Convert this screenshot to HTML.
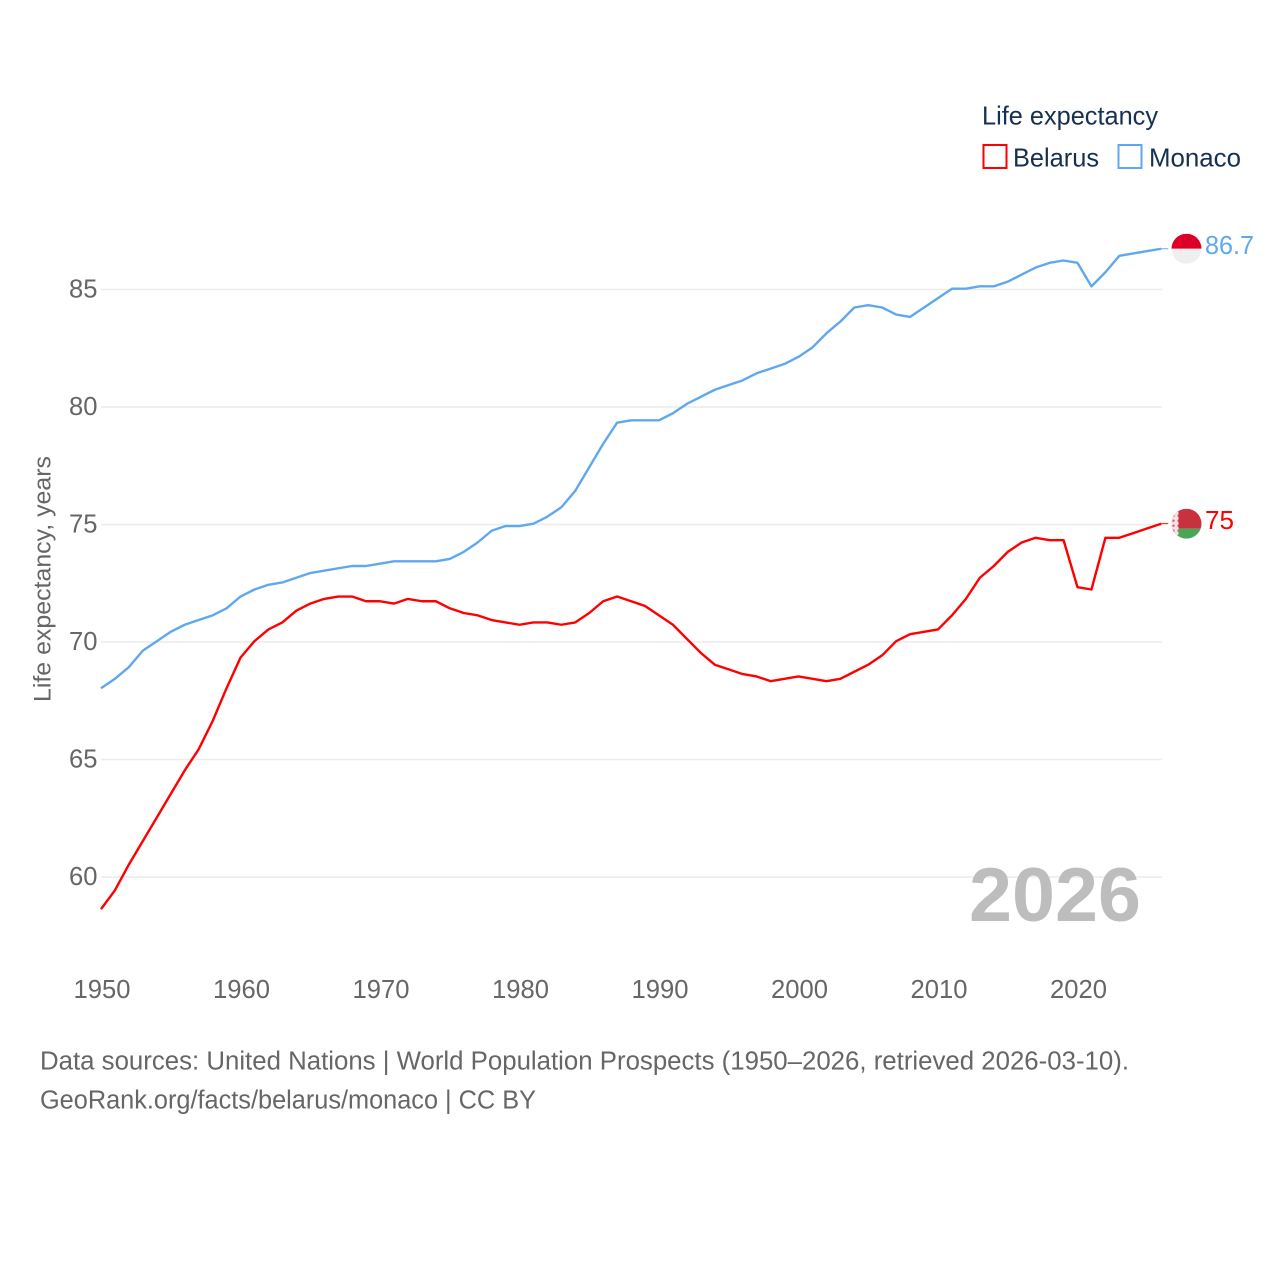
<!DOCTYPE html>
<html lang="en">
<head>
<meta charset="utf-8">
<title>Life expectancy: Belarus and Monaco</title>
<style>
html,body{margin:0;padding:0;background:#fff;width:1280px;height:1280px;overflow:hidden}
svg{display:block}
text{font-family:"Liberation Sans",sans-serif}
</style>
</head>
<body>
<svg id="chart" xmlns="http://www.w3.org/2000/svg" width="1280" height="1280" viewBox="0 0 1280 1280">
  <defs>
    <clipPath id="flag-clip"><circle cx="0" cy="0" r="15"/></clipPath>
    <pattern id="belarus-ornament" width="5" height="5" patternUnits="userSpaceOnUse">
      <rect width="5" height="5" fill="#f7e3e5"/>
      <rect x="1" y="1" width="2" height="2" fill="#d8505e"/>
    </pattern>
  </defs>
  <rect width="1280" height="1280" fill="#ffffff"/>
  <g id="grid"></g>
  <g id="y-ticks"></g>
  <g id="x-ticks"></g>
  <text transform="translate(50.5,702) rotate(-90)" font-size="24" fill="#666666" textLength="246" lengthAdjust="spacingAndGlyphs">Life expectancy, years</text>
  <text x="969" y="921" font-size="76" font-weight="700" fill="#bdbdbd" textLength="172" lengthAdjust="spacingAndGlyphs">2026</text>
  <g id="series"></g>
  <g id="flag-monaco" clip-path="url(#flag-clip)">
    <rect x="-15" y="-15" width="30" height="15" fill="#dc0028"/>
    <rect x="-15" y="0" width="30" height="15" fill="#efefef"/>
  </g>
  <g id="flag-belarus" clip-path="url(#flag-clip)">
    <rect x="-15" y="-15" width="30" height="20" fill="#c8313e"/>
    <rect x="-15" y="5" width="30" height="10" fill="#4aa657"/>
    <rect x="-15" y="-15" width="7" height="30" fill="url(#belarus-ornament)"/>
  </g>
  <g id="value-labels"></g>
  <g>
    <text x="982" y="124.5" font-size="26" fill="#16304f" textLength="176" lengthAdjust="spacingAndGlyphs">Life expectancy</text>
    <g>
      <rect x="983.5" y="145" width="23" height="23" fill="#ffffff" stroke="#ff0000" stroke-width="2"/>
      <text x="1013" y="166.5" font-size="26" fill="#16304f" textLength="86" lengthAdjust="spacingAndGlyphs">Belarus</text>
    </g>
    <g>
      <rect x="1118.5" y="145" width="23" height="23" fill="#ffffff" stroke="#60a8ee" stroke-width="2"/>
      <text x="1149" y="166.5" font-size="26" fill="#16304f" textLength="92" lengthAdjust="spacingAndGlyphs">Monaco</text>
    </g>
  </g>
  <text x="40" y="1069.5" font-size="25.5" fill="#666666" textLength="1089" lengthAdjust="spacingAndGlyphs">Data sources: United Nations | World Population Prospects (1950–2026, retrieved 2026-03-10).</text>
  <text x="40" y="1108.5" font-size="25.5" fill="#666666" textLength="496" lengthAdjust="spacingAndGlyphs">GeoRank.org/facts/belarus/monaco | CC BY</text>
</svg>
<script>
const startYear = 1950;
const belarusValues = [58.6,59.4,60.5,61.5,62.5,63.5,64.5,65.4,66.6,68.0,69.3,70.0,70.5,70.8,71.3,71.6,71.8,71.9,71.9,71.7,71.7,71.6,71.8,71.7,71.7,71.4,71.2,71.1,70.9,70.8,70.7,70.8,70.8,70.7,70.8,71.2,71.7,71.9,71.7,71.5,71.1,70.7,70.1,69.5,69.0,68.8,68.6,68.5,68.3,68.4,68.5,68.4,68.3,68.4,68.7,69.0,69.4,70.0,70.3,70.4,70.5,71.1,71.8,72.7,73.2,73.8,74.2,74.4,74.3,74.3,72.3,72.2,74.4,74.4,74.6,74.8,75.0];
const monacoValues = [68.0,68.4,68.9,69.6,70.0,70.4,70.7,70.9,71.1,71.4,71.9,72.2,72.4,72.5,72.7,72.9,73.0,73.1,73.2,73.2,73.3,73.4,73.4,73.4,73.4,73.5,73.8,74.2,74.7,74.9,74.9,75.0,75.3,75.7,76.4,77.4,78.4,79.3,79.4,79.4,79.4,79.7,80.1,80.4,80.7,80.9,81.1,81.4,81.6,81.8,82.1,82.5,83.1,83.6,84.2,84.3,84.2,83.9,83.8,84.2,84.6,85.0,85.0,85.1,85.1,85.3,85.6,85.9,86.1,86.2,86.1,85.1,85.7,86.4,86.5,86.6,86.7];
const yTickValues = [60,65,70,75,80,85];
const xTickValues = [1950,1960,1970,1980,1990,2000,2010,2020];
const belarusLabel = "75";
const monacoLabel = "86.7";

const SVG_NS = "http://www.w3.org/2000/svg";
const GRID_OFFSET = 0.8;
const LABEL_OFFSET = 1;
function xScale(year){ return 101 + (year - 1950) * 13.95; }
function yScale(v){ return 876.2 - (v - 60) * 23.5; }

function makeText(str, x, y, size, fill, anchor){
  const t = document.createElementNS(SVG_NS, "text");
  t.textContent = str;
  t.setAttribute("x", x);
  t.setAttribute("y", y);
  t.setAttribute("font-size", size);
  t.setAttribute("fill", fill);
  t.setAttribute("text-anchor", anchor);
  return t;
}

const gridGroup = document.getElementById("grid");
const yGroup = document.getElementById("y-ticks");
yTickValues.forEach(function(v){
  const line = document.createElementNS(SVG_NS, "line");
  
  
  line.setAttribute("x1", 101);
  line.setAttribute("x2", 1162);
  line.setAttribute("y1", yScale(v) + GRID_OFFSET);
  line.setAttribute("y2", yScale(v) + GRID_OFFSET);
  line.setAttribute("stroke", "#ececec");
  line.setAttribute("stroke-width", 1.4);
  gridGroup.appendChild(line);
  const label = makeText(String(v), 97.5, yScale(v) + 9, 25.6, "#666666", "end");
  
  
  yGroup.appendChild(label);
});

const xGroup = document.getElementById("x-ticks");
xTickValues.forEach(function(year){
  const label = makeText(String(year), xScale(year) + LABEL_OFFSET, 998, 25.6, "#666666", "middle");
  
  
  xGroup.appendChild(label);
});

function drawSeries(values, color, name, flagId, labelText, labelWidth){
  const seriesGroup = document.getElementById("series");
  const lastIndex = values.length - 1;
  const lastX = xScale(startYear + lastIndex);
  const lastY = yScale(values[lastIndex]);
  const points = values.map(function(v, i){
    return xScale(startYear + i).toFixed(2) + "," + yScale(v).toFixed(2);
  });
  const line = document.createElementNS(SVG_NS, "polyline");
  
  
  line.setAttribute("points", points.join(" "));
  line.setAttribute("fill", "none");
  line.setAttribute("stroke", color);
  line.setAttribute("stroke-width", 2.4);
  line.setAttribute("stroke-linejoin", "round");
  seriesGroup.appendChild(line);
  const connector = document.createElementNS(SVG_NS, "line");
  
  
  connector.setAttribute("x1", lastX);
  connector.setAttribute("x2", lastX + 7);
  connector.setAttribute("y1", lastY);
  connector.setAttribute("y2", lastY);
  connector.setAttribute("stroke", color);
  connector.setAttribute("stroke-width", 1);
  seriesGroup.appendChild(connector);
  document.getElementById(flagId).setAttribute("transform", "translate(1186.5," + lastY + ")");
  const label = makeText(labelText, 1205, lastY + 5.3, 25.6, color, "start");
  
  
  label.setAttribute("textLength", labelWidth);
  label.setAttribute("lengthAdjust", "spacingAndGlyphs");
  document.getElementById("value-labels").appendChild(label);
}

drawSeries(monacoValues, "#60a8ee", "monaco", "flag-monaco", monacoLabel, 49);
drawSeries(belarusValues, "#ff0000", "belarus", "flag-belarus", belarusLabel, 29);
</script>
</body>
</html>
